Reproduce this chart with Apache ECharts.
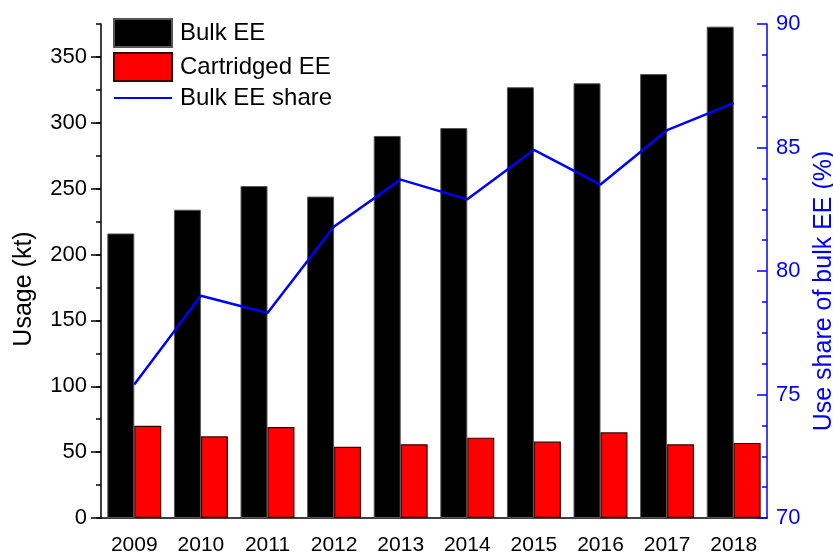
<!DOCTYPE html>
<html>
<head>
<meta charset="utf-8">
<script src="https://cdn.jsdelivr.net/npm/echarts@6/dist/echarts.min.js"></script>
<style>
  html, body { margin: 0; padding: 0; background: #fff; }
  #chart { width: 833px; height: 554px; }
</style>
</head>
<body>
<div id="chart"></div>
<script>
const years = ['2009', '2010', '2011', '2012', '2013', '2014', '2015', '2016', '2017', '2018']
const bulkEE = [216, 234, 252, 244, 290, 296, 327, 330, 337, 373]
const cartridgedEE = [70, 62, 69, 54, 56, 61, 58, 65, 56, 57]
const bulkShare = [75.4, 79.0, 78.3, 81.8, 83.7, 82.9, 84.9, 83.5, 85.7, 86.8]

const font = 'Liberation Sans, Arial, sans-serif'
const blue = '#0000ff'

const chart = echarts.init(document.getElementById('chart'))

chart.setOption({
  animation: false,
  textStyle: { fontFamily: font },
  grid: [
    { left: 101, right: 66, top: 24, bottom: 36, outerBoundsMode: 'none', containLabel: false },
    // second grid only carries the long major ticks of the left axis (0..350)
    { left: 101, right: 66, top: 24 + 494 * 25 / 375, bottom: 36, outerBoundsMode: 'none', containLabel: false }
  ],
  legend: {
    left: 113,
    top: 18,
    padding: 0,
    orient: 'vertical',
    itemWidth: 58,
    itemHeight: 28,
    itemGap: 4,
    textStyle: { fontSize: 24, color: '#000', fontFamily: font, padding: [0, 0, 0, 3] },
    data: [
      { name: 'Bulk EE', icon: 'rect' },
      { name: 'Cartridged EE', icon: 'rect' },
      { name: 'Bulk EE share', itemStyle: { opacity: 0 } }
    ]
  },
  xAxis: [
    {
      type: 'category',
      data: years,
      axisLine: { lineStyle: { color: '#000', width: 1.5 } },
      axisTick: { alignWithLabel: true, length: 9, lineStyle: { color: '#000', width: 1.5 } },
      axisLabel: { color: '#000', fontSize: 21, margin: 17 }
    },
    { type: 'category', gridIndex: 1, data: years, show: false }
  ],
  yAxis: [
    {
      type: 'value',
      min: 0,
      max: 375,
      interval: 25,
      name: 'Usage (kt)',
      nameLocation: 'middle',
      nameRotate: 90,
      nameGap: 64,
      nameTextStyle: { fontSize: 25, color: '#000', padding: [0, 36, 0, 0] },
      axisLine: { show: true, lineStyle: { color: '#000', width: 1.5 } },
      axisTick: { show: true, length: 5, lineStyle: { color: '#000', width: 1.5 } },
      axisLabel: { show: false },
      splitLine: { show: false }
    },
    {
      type: 'value',
      position: 'right',
      min: 70,
      max: 90,
      interval: 5,
      name: 'Use share of bulk EE (%)',
      nameLocation: 'middle',
      nameRotate: 90,
      nameGap: 42,
      nameTextStyle: { fontSize: 25, color: blue, padding: [0, 40, 0, 0] },
      axisLine: { show: true, lineStyle: { color: blue, width: 1.5 } },
      axisTick: { show: true, inside: true, length: 10, lineStyle: { color: blue, width: 1.5 } },
      minorTick: { show: true, splitNumber: 4, length: 5, lineStyle: { color: blue, width: 1.5 } },
      axisLabel: { color: blue, fontSize: 22, margin: 9 },
      splitLine: { show: false }
    },
    {
      type: 'value',
      gridIndex: 1,
      min: 0,
      max: 350,
      interval: 50,
      axisLine: { show: false },
      axisTick: { show: true, length: 10, lineStyle: { color: '#000', width: 1.5 } },
      axisLabel: { color: '#000', fontSize: 22, margin: 14 },
      splitLine: { show: false }
    }
  ],
  series: [
    {
      name: 'Bulk EE',
      type: 'bar',
      data: bulkEE,
      barGap: '0%',
      barCategoryGap: '19%',
      itemStyle: { color: '#000', borderColor: '#555', borderWidth: 1 }
    },
    {
      name: 'Cartridged EE',
      type: 'bar',
      data: cartridgedEE,
      itemStyle: { color: '#ff0000', borderColor: '#3a0000', borderWidth: 1.2 }
    },
    {
      name: 'Bulk EE share',
      type: 'line',
      yAxisIndex: 1,
      data: bulkShare,
      symbol: 'none',
      z: 5,
      lineStyle: { color: blue, width: 2.5 },
      itemStyle: { color: blue }
    }
  ]
})
</script>
</body>
</html>
